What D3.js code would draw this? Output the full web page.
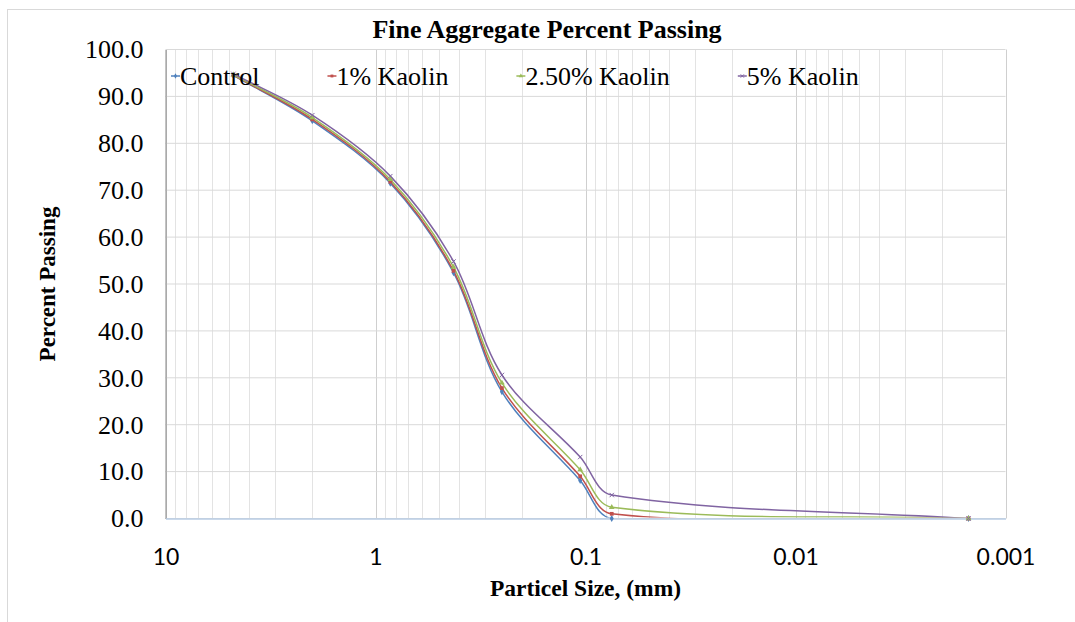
<!DOCTYPE html>
<html>
<head>
<meta charset="utf-8">
<script src="https://cdn.jsdelivr.net/npm/d3@7"></script>
<style>
  body { margin: 0; background: #fff; }
  svg { display: block; }
</style>
</head>
<body>
<div class="container"></div>
<script>
// sieve sizes (mm) and percent passing per mix
const sizes = [4.75, 2.0, 0.85, 0.425, 0.25, 0.106, 0.075, 0.0015];
const control = [94.5, 84.8, 71.5, 52.4, 27.0, 8.1, 0.0, 0.0];
const kaolin1 = [94.5, 85.1, 71.8, 52.8, 27.8, 9.0, 1.0, 0.0];
const kaolin25 = [94.6, 85.5, 72.3, 53.6, 28.9, 10.4, 2.4, 0.0];
const kaolin5 = [94.8, 86.0, 73.0, 54.8, 30.6, 13.1, 5.0, 0.0];
const seriesNames = ['Control', '1% Kaolin', '2.50% Kaolin', '5% Kaolin'];
const seriesColors = ['#4F81BD', '#C0504D', '#9BBB59', '#8064A2'];
const seriesSymbols = [d3.symbolDiamond, d3.symbolSquare, d3.symbolTriangle, d3.symbolTimes];

const xTicks = [10, 1, 0.1, 0.01, 0.001];
const xTickLabels = ['10', '1', '0.1', '0.01', '0.001'];
const yTicks = [0, 10, 20, 30, 40, 50, 60, 70, 80, 90, 100];

const W = 1075, H = 622;
const plotL = 165.5, plotR = 1005.5, plotT = 49.5, plotB = 518.5;

const svg = d3.select('.container')
  .append('svg')
  .attr('width', W)
  .attr('height', H);

// outer chart frame
svg.append('rect')
  .attr('x', 7.5).attr('y', 9.5)
  .attr('width', 1100).attr('height', 700)
  .attr('fill', '#fff')
  .attr('stroke', '#d9d9d9');

const x = d3.scaleLog().domain([10, 0.001]).range([plotL, plotR]);
const y = d3.scaleLinear().domain([0, 100]).range([plotB, plotT]);

// vertical gridlines, majors on decades
const isMajor = d => Math.abs(Math.log10(d) - Math.round(Math.log10(d))) < 1e-9;
svg.append('g')
  .selectAll('line')
  .data(x.ticks().filter(d => !isMajor(d)))
  .join('line')
  .attr('x1', d => Math.round(x(d)) + 0.5).attr('x2', d => Math.round(x(d)) + 0.5)
  .attr('y1', plotT).attr('y2', plotB)
  .attr('stroke', '#e3e3e3');

svg.append('g')
  .selectAll('line')
  .data(xTicks)
  .join('line')
  .attr('x1', d => Math.round(x(d)) + 0.5).attr('x2', d => Math.round(x(d)) + 0.5)
  .attr('y1', plotT).attr('y2', plotB)
  .attr('stroke', '#cfcfcf');

// horizontal gridlines
svg.append('g')
  .selectAll('line')
  .data(yTicks)
  .join('line')
  .attr('x1', plotL).attr('x2', plotR)
  .attr('y1', d => y(d)).attr('y2', d => y(d))
  .attr('stroke', '#d9d9d9');

// y axis
const yAxis = svg.append('g')
  .attr('transform', `translate(${plotL},0)`)
  .call(d3.axisLeft(y).tickValues(yTicks).tickSize(0).tickPadding(22).tickFormat(d3.format('.1f')));
yAxis.select('.domain').attr('stroke', '#868686');
yAxis.selectAll('text')
  .attr('font-family', '"Liberation Serif", "Times New Roman", serif')
  .attr('font-size', 26)
  .attr('fill', '#000');

// x axis (base line) + labels
const xAxis = svg.append('g')
  .attr('transform', `translate(0,${plotB})`)
  .call(d3.axisBottom(x).tickValues(xTicks).tickSize(0).tickPadding(30)
    .tickFormat((d, i) => xTickLabels[i]));
xAxis.select('.domain').attr('stroke', '#b9cde5').attr('stroke-width', 1.5);
xAxis.selectAll('text')
  .attr('font-family', 'Lato, "Open Sans", sans-serif')
  .attr('font-size', 23)
  .attr('fill', '#000');

// smoothed line, spreadsheet style: tangent from neighbours, handle = chord/3
function smoothPath(pts) {
  const p = d3.path();
  const dist = (a, b) => Math.hypot(b[0] - a[0], b[1] - a[1]);
  const tangent = i => {
    const a = pts[Math.max(i - 1, 0)], b = pts[Math.min(i + 1, pts.length - 1)];
    const len = (i > 0 ? dist(pts[i - 1], pts[i]) : 0) + (i < pts.length - 1 ? dist(pts[i], pts[i + 1]) : 0);
    return [(b[0] - a[0]) / len, (b[1] - a[1]) / len];
  };
  p.moveTo(pts[0][0], pts[0][1]);
  for (let i = 0; i < pts.length - 1; i++) {
    const d = dist(pts[i], pts[i + 1]) / 3;
    const t0 = tangent(i), t1 = tangent(i + 1);
    p.bezierCurveTo(
      pts[i][0] + t0[0] * d, pts[i][1] + t0[1] * d,
      pts[i + 1][0] - t1[0] * d, pts[i + 1][1] - t1[1] * d,
      pts[i + 1][0], pts[i + 1][1]);
  }
  return p.toString();
}

const allSeries = [control, kaolin1, kaolin25, kaolin5];

svg.append('clipPath').attr('id', 'plotClip')
  .append('rect')
  .attr('x', plotL).attr('y', plotT - 2)
  .attr('width', plotR - plotL).attr('height', plotB - plotT + 1);

const plot = svg.append('g').attr('clip-path', 'url(#plotClip)');
allSeries.forEach((vals, s) => {
  plot.append('path')
    .attr('d', smoothPath(vals.map((v, i) => [x(sizes[i]), y(v)])))
    .attr('fill', 'none')
    .attr('stroke', seriesColors[s])
    .attr('stroke-width', 1.5);
});

allSeries.forEach((vals, s) => {
  svg.append('g')
    .selectAll('path')
    .data(vals)
    .join('path')
    .attr('transform', (d, i) => `translate(${x(sizes[i])},${y(d)})`)
    .attr('d', d3.symbol(seriesSymbols[s], 14))
    .attr('fill', s === 3 ? 'none' : seriesColors[s])
    .attr('stroke', s === 3 ? seriesColors[s] : 'none')
    .attr('stroke-width', 1);
});

// legend
const legend = svg.append('g').attr('transform', 'translate(171,0)');
let lx = 0;
seriesNames.forEach((name, s) => {
  const g = legend.append('g').attr('transform', `translate(${lx},0)`);
  g.append('line')
    .attr('x1', 0).attr('x2', 9).attr('y1', 76).attr('y2', 76)
    .attr('stroke', seriesColors[s]).attr('stroke-width', 1.5);
  g.append('path')
    .attr('transform', 'translate(4.5,76)')
    .attr('d', d3.symbol(seriesSymbols[s], 8))
    .attr('fill', s === 3 ? 'none' : seriesColors[s])
    .attr('stroke', s === 3 ? seriesColors[s] : 'none');
  const t = g.append('text')
    .attr('x', 9).attr('y', 85)
    .attr('font-family', '"Liberation Serif", "Times New Roman", serif')
    .attr('font-size', 26)
    .attr('fill', '#000')
    .text(name);
  lx += 9 + t.node().getComputedTextLength() + 68;
});

// titles
svg.append('text')
  .attr('x', 547).attr('y', 38)
  .attr('text-anchor', 'middle')
  .attr('font-family', '"Liberation Serif", "Times New Roman", serif')
  .attr('font-weight', 'bold')
  .attr('font-size', 26)
  .text('Fine Aggregate Percent Passing');

svg.append('text')
  .attr('x', (plotL + plotR) / 2).attr('y', 596)
  .attr('text-anchor', 'middle')
  .attr('font-family', '"Liberation Serif", "Times New Roman", serif')
  .attr('font-weight', 'bold')
  .attr('font-size', 23.5)
  .text('Particel Size, (mm)');

svg.append('text')
  .attr('transform', `translate(55,${(plotT + plotB) / 2}) rotate(-90)`)
  .attr('text-anchor', 'middle')
  .attr('font-family', '"Liberation Serif", "Times New Roman", serif')
  .attr('font-weight', 'bold')
  .attr('font-size', 23)
  .text('Percent Passing');
</script>
</body>
</html>
